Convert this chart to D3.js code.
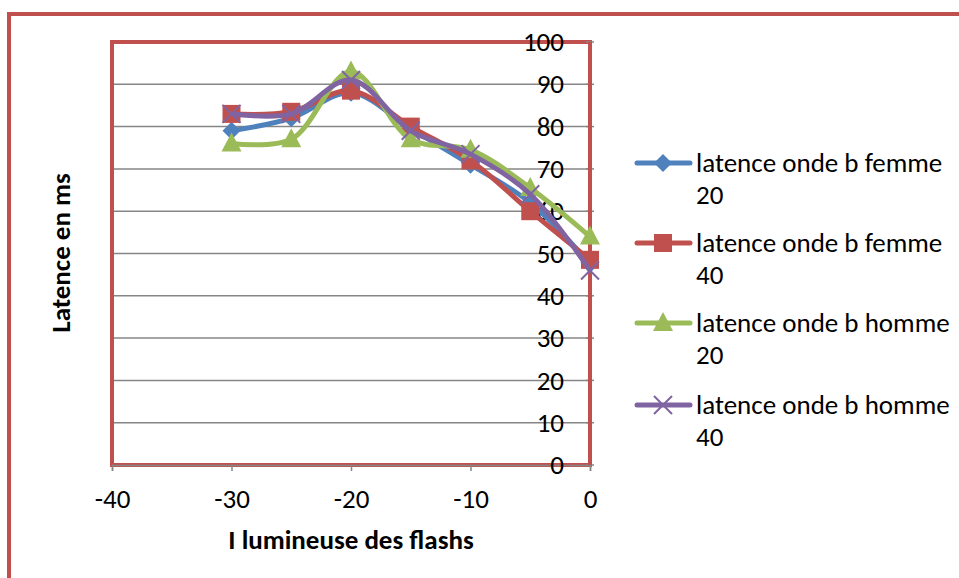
<!DOCTYPE html>
<html><head><meta charset="utf-8">
<script src="https://cdn.jsdelivr.net/npm/d3@7"></script>
<style>body{margin:0;background:#fff}svg{display:block}text{font-family:Carlito,Lato,"Open Sans",sans-serif;fill:#000}</style>
</head><body><svg id="c" width="959" height="578"></svg>
<script>
const xValues = [-30, -25, -20, -15, -10, -5, 0];
const femme20 = [79, 82, 88, 79.5, 71, 62, 47.5];
const femme40 = [83, 83.5, 88.5, 80, 72, 60, 48.5];
const homme20 = [76, 77, 93, 77, 74.5, 65.5, 54];
const homme40 = [83, 83, 91, 79, 73.5, 64, 46];
const seriesNames = ["latence onde b femme 20","latence onde b femme 40","latence onde b homme 20","latence onde b homme 40"];
const xTicks = [-40, -30, -20, -10, 0];
const yTicks = [0,10,20,30,40,50,60,70,80,90,100];
const xTitle = "I lumineuse des flashs";
const yTitle = "Latence en ms";

const colors = ["#4F81BD","#C0504D","#9BBB59","#8064A2"];
const markers = ["diamond","square","triangle","x"];
const allSeries = [femme20, femme40, homme20, homme40];

const svg = d3.select("#c");
const L=112, R=590, T=42, B=465;
const x = d3.scaleLinear().domain([-40,0]).range([L,R]);
const y = d3.scaleLinear().domain([0,100]).range([B,T]);

// outer border
svg.append("rect").attr("x",9).attr("y",14).attr("width",1100).attr("height",1100)
  .attr("fill","none").attr("stroke","#C0504D").attr("stroke-width",4);

// gridlines
svg.append("g").selectAll("line").data(yTicks.filter(d=>d>0)).join("line")
  .attr("x1",L).attr("x2",R).attr("y1",d=>y(d)).attr("y2",d=>y(d))
  .attr("stroke","#868686").attr("stroke-width",1.5);

// plot frame
svg.append("rect").attr("x",L).attr("y",T).attr("width",R-L).attr("height",B-T)
  .attr("fill","none").attr("stroke","#C0504D").attr("stroke-width",4);

// x axis
const xa = svg.append("g").attr("transform",`translate(0,${B})`)
  .call(d3.axisBottom(x).tickValues(xTicks).tickSize(6).tickPadding(18).tickFormat(d=>String(d)));
xa.select(".domain").attr("stroke","#868686").attr("stroke-width",1.5);
xa.selectAll(".tick line").attr("stroke","#868686").attr("stroke-width",1.5);
xa.selectAll("text").attr("font-size",27).attr("font-family","Carlito,Lato,sans-serif").attr("fill","#000");

// y axis at x=0
const ya = svg.append("g").attr("transform",`translate(${x(0)},0)`)
  .call(d3.axisLeft(y).tickValues(yTicks).tickSize(0).tickPadding(26).tickFormat(d=>String(d)));
ya.select(".domain").attr("stroke","#868686").attr("stroke-width",1.5);
ya.selectAll("text").attr("font-size",27).attr("font-family","Carlito,Lato,sans-serif").attr("fill","#000");
svg.append("g").selectAll("line").data(yTicks).join("line")
  .attr("x1",R-4).attr("x2",R+4).attr("y1",d=>y(d)).attr("y2",d=>y(d))
  .attr("stroke","#868686").attr("stroke-width",1.5);
svg.append("line").attr("x1",R).attr("x2",R).attr("y1",T).attr("y2",B).attr("stroke","#C0504D").attr("stroke-width",4);

// titles
svg.append("text").attr("x",351).attr("y",549).attr("text-anchor","middle")
  .attr("font-size",27).attr("font-weight","bold").text(xTitle);
svg.append("text").attr("transform","translate(70,253) rotate(-90)").attr("text-anchor","middle")
  .attr("font-size",27).attr("font-weight","bold").text(yTitle);

function drawMarker(g, type, cx, cy, color){
  if(type==="diamond"){
    g.append("path").attr("d",`M${cx},${cy-9}L${cx+9},${cy}L${cx},${cy+9}L${cx-9},${cy}Z`).attr("fill",color);
  } else if(type==="square"){
    g.append("rect").attr("x",cx-9).attr("y",cy-9).attr("width",18).attr("height",18).attr("fill",color);
  } else if(type==="triangle"){
    g.append("path").attr("d",`M${cx},${cy-11}L${cx+10},${cy+8}L${cx-10},${cy+8}Z`).attr("fill",color);
  } else {
    g.append("path").attr("d",`M${cx-9},${cy-9}L${cx+9},${cy+9}M${cx+9},${cy-9}L${cx-9},${cy+9}`)
      .attr("stroke",color).attr("stroke-width",2);
  }
}

const line = d3.line().x((d,i)=>x(xValues[i])).y(d=>y(d)).curve(d3.curveCatmullRom.alpha(0.5));
allSeries.forEach((s,k)=>{
  const g = svg.append("g");
  g.append("path").attr("d",line(s)).attr("fill","none").attr("stroke",colors[k]).attr("stroke-width",5).attr("stroke-linejoin","round");
  s.forEach((v,i)=>drawMarker(g, markers[k], x(xValues[i]), y(v), colors[k]));
});

// legend
const legY = [163,243,323,405];
seriesNames.forEach((n,k)=>{
  const g = svg.append("g");
  g.append("line").attr("x1",637).attr("x2",690).attr("y1",legY[k]).attr("y2",legY[k])
    .attr("stroke",colors[k]).attr("stroke-width",5).attr("stroke-linecap","round");
  drawMarker(g, markers[k], 663, legY[k], colors[k]);
  const words = n.split(" ");
  const last = words.pop();
  const t = g.append("text").attr("x",696).attr("y",legY[k]+9).attr("font-size",27);
  t.append("tspan").attr("x",696).text(words.join(" "));
  t.append("tspan").attr("x",696).attr("dy",32).text(last);
});
</script></body></html>
